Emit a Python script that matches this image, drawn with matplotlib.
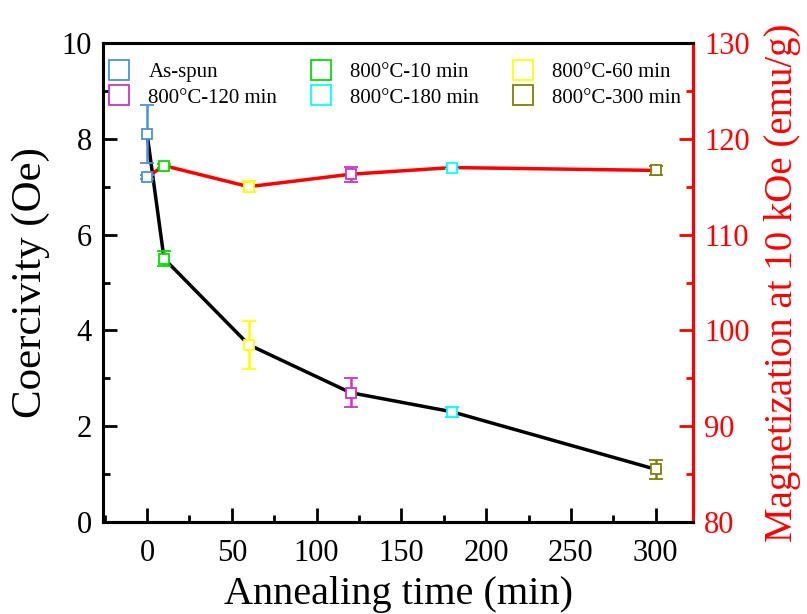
import matplotlib.pyplot as plt
from matplotlib.ticker import MultipleLocator

plt.rcParams['font.family'] = ['Liberation Serif', 'DejaVu Serif']
plt.rcParams['mathtext.fontset'] = 'stix'

# annealing series
labels = ['As-spun', '800\u00b0C-10 min', '800\u00b0C-60 min',
          '800\u00b0C-120 min', '800\u00b0C-180 min', '800\u00b0C-300 min']
colors = ['#4a90e2', '#00e000', '#ffff00', '#cc33cc', '#00ffff', '#808000']
time_min = [0, 10, 60, 120, 180, 300]

coercivity = [8.1, 5.5, 3.7, 2.7, 2.3, 1.1]
coercivity_err = [0.6, 0.15, 0.5, 0.3, 0.1, 0.2]

magnetization = [116.0, 117.2, 115.0, 116.3, 117.0, 116.7]
magnetization_err = [0.2, 0.2, 0.6, 0.8, 0.2, 0.5]

fig = plt.figure(figsize=(8.07, 6.14), dpi=100)
ax = fig.add_axes([103 / 807, 92 / 614, 590 / 807, 479 / 614])
ax2 = ax.twinx()

ax.plot(time_min, coercivity, color='black', lw=2.5, zorder=2)
ax2.plot(time_min, magnetization, color='red', lw=2.5, zorder=2)

for i in range(len(time_min)):
    ax.errorbar(time_min[i], coercivity[i], yerr=coercivity_err[i], fmt='s',
                ms=7.5, mfc='white', mec=colors[i], mew=1.3, ecolor=colors[i],
                elinewidth=1.8, capsize=5, capthick=1.8, zorder=3,
                label=labels[i])
    ax2.errorbar(time_min[i], magnetization[i], yerr=magnetization_err[i], fmt='s',
                 ms=7.5, mfc='white', mec=colors[i], mew=1.3, ecolor=colors[i],
                 elinewidth=1.8, capsize=5, capthick=1.8, zorder=3)

ax.set_xlim(-26, 322)
ax.set_ylim(0, 10)
ax2.set_ylim(80, 130)

ax.xaxis.set_major_locator(MultipleLocator(50))
ax.xaxis.set_minor_locator(MultipleLocator(25))
ax.yaxis.set_major_locator(MultipleLocator(2))
ax.yaxis.set_minor_locator(MultipleLocator(1))
ax2.yaxis.set_major_locator(MultipleLocator(10))
ax2.yaxis.set_minor_locator(MultipleLocator(5))

ax.tick_params(which='both', direction='in', width=2, labelsize=22,
               top=False, right=False)
ax.tick_params(which='major', length=10, pad=12)
ax.tick_params(which='minor', length=5)
ax.tick_params(axis='y', pad=8)
ax2.tick_params(which='both', direction='in', width=2, colors='red', labelsize=22,
                left=False, labelleft=False, right=True, labelright=True)
ax2.tick_params(which='major', length=10, pad=8)
ax2.tick_params(which='minor', length=5)

for sp in ax.spines.values():
    sp.set_linewidth(2.2)
for sp in ax2.spines.values():
    sp.set_linewidth(2.2)
ax2.spines['right'].set_color('red')
ax2.spines['left'].set_visible(False)

ax.set_xlabel('Annealing time (min)', fontsize=29, labelpad=6)
ax.set_ylabel('Coercivity (Oe)', fontsize=31, labelpad=8)
ax2.set_ylabel('Magnetization at 10 kOe (emu/g)', fontsize=28, color='red', labelpad=10)

# legend rows: As-spun, 10, 60 / 120, 180, 300 (matplotlib fills by column)
handles, labs = ax.get_legend_handles_labels()
handles = [h[0] for h in handles]
order = [0, 3, 1, 4, 2, 5]
ax.legend([handles[k] for k in order], [labs[k] for k in order], ncol=3,
          loc='upper left', bbox_to_anchor=(-0.015, 0.99), frameon=False,
          fontsize=15, markerscale=2.0, handletextpad=0.9, columnspacing=1.6,
          labelspacing=0.3, handlelength=1.0, borderaxespad=0.3)

fig.savefig('out.png', dpi=100)
